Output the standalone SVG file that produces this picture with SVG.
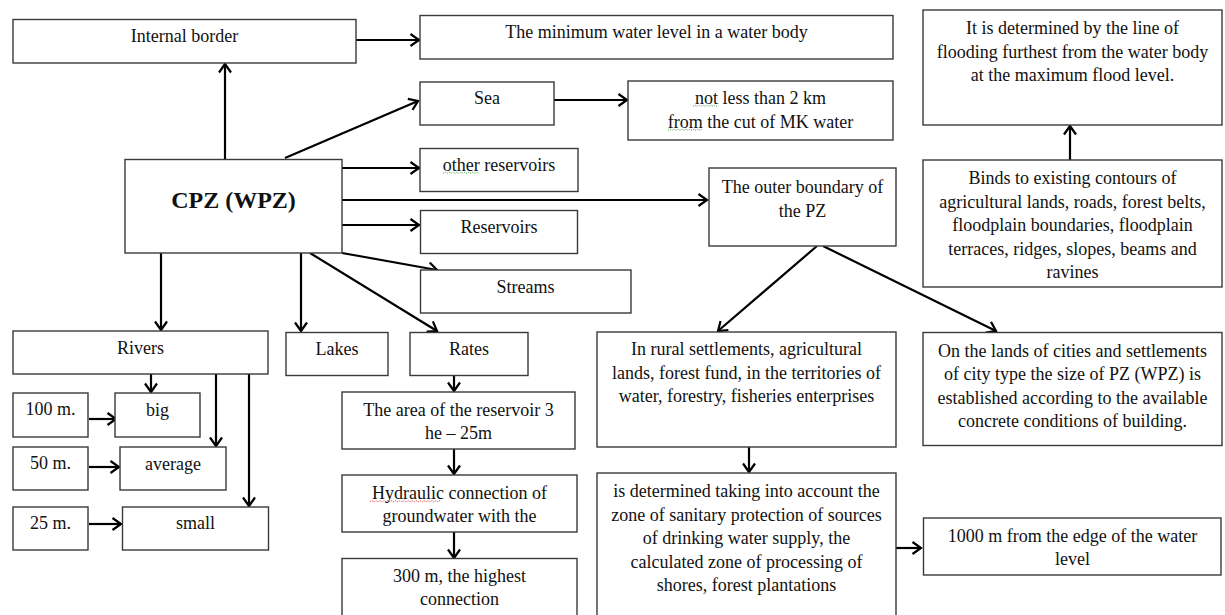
<svg xmlns="http://www.w3.org/2000/svg" width="1225" height="615" viewBox="0 0 1225 615">
<style>
.box{fill:#fff;stroke:#3a3a3a;stroke-width:1.4}
.t{font-family:"Liberation Serif","Times New Roman",serif;font-size:18px;fill:#111;text-anchor:middle}
.b{font-weight:bold;font-size:24px}
.c{fill:none;stroke:#000;stroke-width:2.2}
.sq{fill:none;stroke-width:0.9;stroke-dasharray:1.2 1.2}
</style>
<defs>
<marker id="ah" markerUnits="userSpaceOnUse" markerWidth="12" markerHeight="14" refX="10" refY="7" orient="auto">
<path d="M1.5,1 L10,7 L1.5,13" fill="none" stroke="#000" stroke-width="2.2"/>
</marker>
</defs>
<rect width="1225" height="615" fill="#fff"/>

<g id="connectors" class="c" marker-end="url(#ah)">
<line x1="356" y1="40" x2="419" y2="40"/>
<line x1="225" y1="160" x2="225" y2="64"/>
<line x1="285" y1="158" x2="418" y2="101"/>
<line x1="554" y1="100" x2="627" y2="100"/>
<line x1="342" y1="168" x2="419" y2="168"/>
<line x1="342" y1="200" x2="707" y2="200"/>
<line x1="342" y1="225" x2="419" y2="225"/>
<line x1="342" y1="253" x2="437" y2="270"/>
<line x1="161" y1="253" x2="161" y2="330"/>
<line x1="301" y1="253" x2="301" y2="331"/>
<line x1="310" y1="253" x2="437" y2="331"/>
<line x1="151" y1="374" x2="151" y2="392"/>
<line x1="216" y1="374" x2="216" y2="446"/>
<line x1="249" y1="374" x2="249" y2="506"/>
<line x1="89" y1="419" x2="116" y2="419"/>
<line x1="89" y1="467" x2="119" y2="467"/>
<line x1="89" y1="524" x2="121" y2="524"/>
<line x1="454" y1="376" x2="454" y2="391"/>
<line x1="454" y1="449" x2="454" y2="474"/>
<line x1="454" y1="532" x2="454" y2="558"/>
<line x1="817" y1="246" x2="718" y2="331"/>
<line x1="823" y1="246" x2="996" y2="331"/>
<line x1="749" y1="447" x2="749" y2="472"/>
<line x1="894" y1="548" x2="921" y2="548"/>
<line x1="1070" y1="160" x2="1070" y2="126"/>
</g>

<g id="internal-border"><rect class="box" x="13" y="19.5" width="343" height="43.5"/><text class="t" x="184.5" y="42">Internal border</text></g>
<g id="min-water"><rect class="box" x="420" y="15.5" width="473" height="43.5"/><text class="t" x="656.5" y="38">The minimum water level in a water body</text></g>
<g id="cpz"><rect class="box" x="125" y="159.5" width="217" height="93.5"/><text class="t b" x="233.5" y="208">CPZ (WPZ)</text></g>
<g id="sea"><rect class="box" x="420" y="82" width="134" height="43"/><text class="t" x="487" y="104">Sea</text></g>
<g id="not-less"><rect class="box" x="628" y="81" width="265" height="59"/><text class="t" x="760.5" y="104">not less than 2 km</text><text class="t" x="760.5" y="127.5">from the cut of MK water</text>
<path class="sq" stroke="#3a9a3a" d="M693,106.5 l2,-1.5 l2,1.5 l2,-1.5 l2,1.5 l2,-1.5 l2,1.5 l2,-1.5 l2,1.5 l2,-1.5 l2,1.5 l2,-1.5 l2,1.5"/>
<path class="sq" stroke="#3a9a3a" d="M668,130.5 l2,-1.5 l2,1.5 l2,-1.5 l2,1.5 l2,-1.5 l2,1.5 l2,-1.5 l2,1.5 l2,-1.5 l2,1.5 l2,-1.5 l2,1.5 l2,-1.5 l2,1.5 l2,-1.5 l2,1.5 l2,-1.5"/></g>
<g id="other-reservoirs"><rect class="box" x="420" y="148.5" width="158" height="43"/><text class="t" x="499" y="170.5">other reservoirs</text>
<path class="sq" stroke="#3a9a3a" d="M443,173.5 l2,-1.5 l2,1.5 l2,-1.5 l2,1.5 l2,-1.5 l2,1.5 l2,-1.5 l2,1.5 l2,-1.5 l2,1.5 l2,-1.5 l2,1.5 l2,-1.5 l2,1.5 l2,-1.5 l2,1.5 l2,-1.5 l2,1.5"/></g>
<g id="outer-boundary"><rect class="box" x="709" y="168" width="187" height="78"/><text class="t" x="802.5" y="193">The outer boundary of</text><text class="t" x="802.5" y="216.5">the PZ</text></g>
<g id="reservoirs"><rect class="box" x="420.5" y="210.5" width="157" height="43"/><text class="t" x="499" y="233">Reservoirs</text></g>
<g id="streams"><rect class="box" x="420.5" y="270" width="210.5" height="43"/><text class="t" x="525.5" y="292.5">Streams</text></g>
<g id="rivers"><rect class="box" x="13" y="331" width="255" height="43"/><text class="t" x="140.5" y="353.5">Rivers</text></g>
<g id="lakes"><rect class="box" x="286" y="332.5" width="102" height="43"/><text class="t" x="337" y="355">Lakes</text></g>
<g id="rates"><rect class="box" x="410" y="332.5" width="118" height="43"/><text class="t" x="469" y="355">Rates</text></g>
<g id="m100"><rect class="box" x="13" y="393" width="75" height="44"/><text class="t" x="50.5" y="415">100 m.</text></g>
<g id="big"><rect class="box" x="115" y="393" width="85" height="44"/><text class="t" x="157.5" y="415.5">big</text></g>
<g id="m50"><rect class="box" x="13" y="447" width="75" height="43"/><text class="t" x="50.5" y="469">50 m.</text></g>
<g id="average"><rect class="box" x="120" y="447" width="106" height="43"/><text class="t" x="173" y="469.5">average</text></g>
<g id="m25"><rect class="box" x="13" y="507" width="75" height="43"/><text class="t" x="50.5" y="529">25 m.</text></g>
<g id="small"><rect class="box" x="122.5" y="507" width="146" height="43"/><text class="t" x="195.5" y="529">small</text></g>
<g id="area"><rect class="box" x="342" y="392" width="233" height="57"/><text class="t" x="458.5" y="415.5">The area of the reservoir 3</text><text class="t" x="458.5" y="439">he – 25m</text></g>
<g id="hydraulic"><rect class="box" x="342" y="475" width="235" height="57"/><text class="t" x="459.5" y="498.5">Hydraulic connection of</text><text class="t" x="459.5" y="522">groundwater with the</text>
<path class="sq" stroke="#d03030" d="M370,502 l2,-1.5 l2,1.5 l2,-1.5 l2,1.5 l2,-1.5 l2,1.5 l2,-1.5 l2,1.5 l2,-1.5 l2,1.5 l2,-1.5 l2,1.5 l2,-1.5 l2,1.5 l2,-1.5 l2,1.5 l2,-1.5 l2,1.5 l2,-1.5 l2,1.5 l2,-1.5 l2,1.5 l2,-1.5 l2,1.5 l2,-1.5 l2,1.5 l2,-1.5 l2,1.5 l2,-1.5 l2,1.5 l2,-1.5 l2,1.5 l2,-1.5 l2,1.5 l2,-1.5"/></g>
<g id="m300"><rect class="box" x="342" y="558.5" width="235" height="60"/><text class="t" x="459.5" y="581.5">300 m, the highest</text><text class="t" x="459.5" y="605">connection</text></g>
<g id="rural"><rect class="box" x="597" y="332" width="299" height="115"/><text class="t" x="746.5" y="355">In rural settlements, agricultural</text><text class="t" x="746.5" y="378.5">lands, forest fund, in the territories of</text><text class="t" x="746.5" y="402">water, forestry, fisheries enterprises</text></g>
<g id="cities"><rect class="box" x="923" y="332.5" width="299" height="113"/><text class="t" x="1072.5" y="356.5">On the lands of cities and settlements</text><text class="t" x="1072.5" y="380">of city type the size of PZ (WPZ) is</text><text class="t" x="1072.5" y="403.5">established according to the available</text><text class="t" x="1072.5" y="427">concrete conditions of building.</text></g>
<g id="determined"><rect class="box" x="597" y="473" width="299" height="146"/><text class="t" x="746.5" y="497">is determined taking into account the</text><text class="t" x="746.5" y="520.5">zone of sanitary protection of sources</text><text class="t" x="746.5" y="544">of drinking water supply, the</text><text class="t" x="746.5" y="567.5">calculated zone of processing of</text><text class="t" x="746.5" y="591">shores, forest plantations</text></g>
<g id="m1000"><rect class="box" x="923.5" y="518" width="297.5" height="57"/><text class="t" x="1072.5" y="541.5">1000 m from the edge of the water</text><text class="t" x="1072.5" y="565">level</text></g>
<g id="flood-line"><rect class="box" x="923" y="10" width="299" height="115"/><text class="t" x="1072.5" y="34">It is determined by the line of</text><text class="t" x="1072.5" y="57.5">flooding furthest from the water body</text><text class="t" x="1072.5" y="81">at the maximum flood level.</text></g>
<g id="binds"><rect class="box" x="923" y="160" width="299" height="127"/><text class="t" x="1072.5" y="184">Binds to existing contours of</text><text class="t" x="1072.5" y="207.5">agricultural lands, roads, forest belts,</text><text class="t" x="1072.5" y="231">floodplain boundaries, floodplain</text><text class="t" x="1072.5" y="254.5">terraces, ridges, slopes, beams and</text><text class="t" x="1072.5" y="278">ravines</text></g>
</svg>
